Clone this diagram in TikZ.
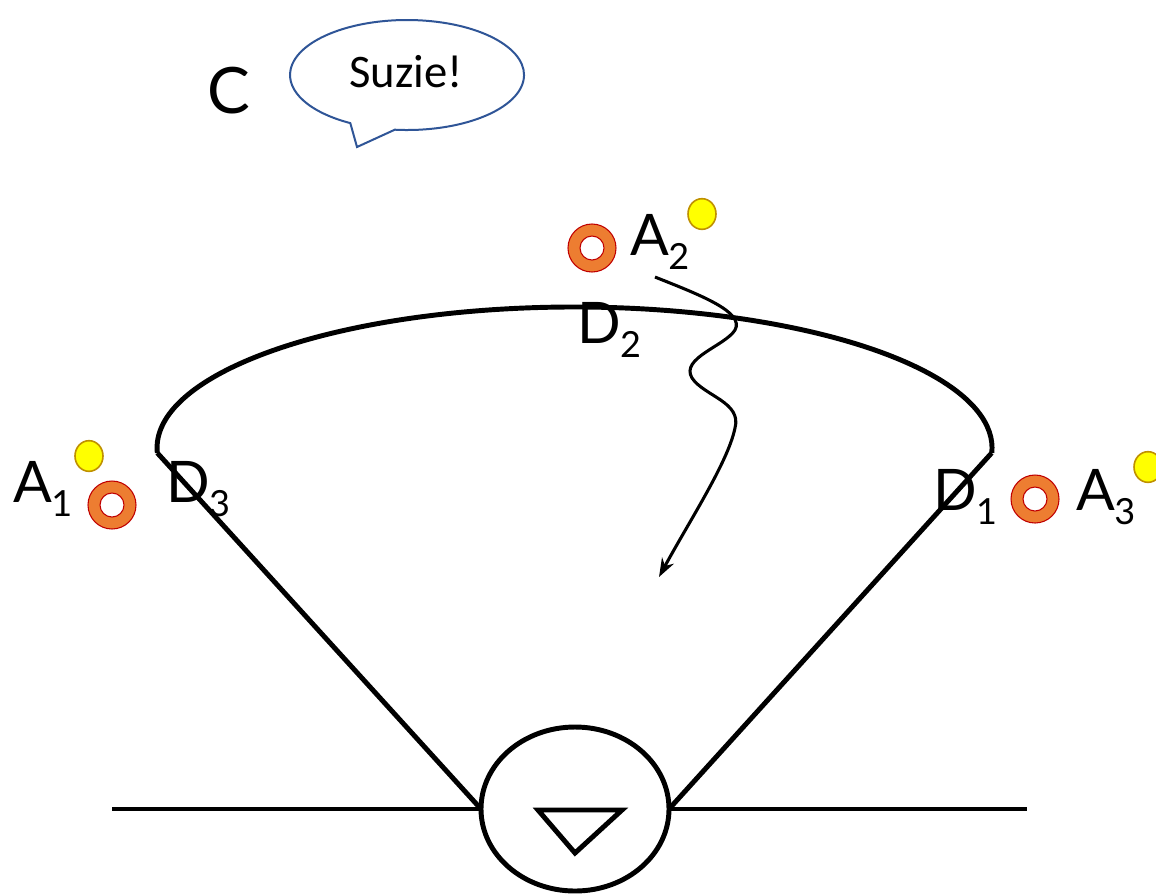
\documentclass[tikz,border=0pt]{standalone}
\usepackage{fontspec}
\setmainfont{Lato}
\newfontfamily\bubblefont{Carlito}
\usetikzlibrary{arrows.meta,shapes.geometric}
\definecolor{ringorange}{HTML}{ED7D31}
\definecolor{ringred}{HTML}{C00000}
\definecolor{dotyellow}{HTML}{FFFF00}
\definecolor{dotgold}{HTML}{BF9000}
\definecolor{bubbleblue}{HTML}{2F5597}

% letter with a lowered index
\newcommand{\sublabel}[2]{#1\kern-0.5pt\raisebox{-11pt}{\fontsize{27}{27}\selectfont #2}}

\begin{document}
\begin{tikzpicture}[x=0.75pt,y=-0.75pt,
  lbl/.style={font=\fontsize{43}{43}\selectfont, inner sep=0pt, anchor=base west},
  wire/.style={line width=3.7pt},
  ringouter/.style={circle, fill=ringorange, draw=ringred, line width=0.8pt, minimum size=36pt, inner sep=0pt},
  ringinner/.style={circle, fill=white, draw=ringred, line width=0.8pt, minimum size=18pt, inner sep=0pt},
  dot/.style={ellipse, fill=dotyellow, draw=dotgold, line width=1.2pt, minimum width=21pt, minimum height=23pt, inner sep=0pt},
  squiggle/.style={line width=2.3pt, -{Stealth[length=14pt,width=10pt]}}
  ]
\useasboundingbox (0,0) rectangle (1156,894);

% speech bubble
\draw[bubbleblue, line width=1.5pt, fill=white]
  (394.8,129.7) arc[start angle=96, end angle=-241, x radius=117, y radius=55]
  -- (357,147) -- cycle;
\node (speech) at (406,72) {\bubblefont\fontsize{35}{35}\selectfont Suzie!};
\node[lbl, font=\fontsize{48}{48}\selectfont] (c) at (207,113) {C};

% detector dome
\coordinate (arcL) at (157.3,452.9);
\coordinate (arcR) at (991.7,452.9);
\draw[wire] (arcL) arc[start angle=178, end angle=362, x radius=417.5, y radius=141];

% meter with its leads
\node (meter) [ellipse, draw, line width=3.7pt, outer sep=0pt, inner sep=0pt,
  minimum width=141pt, minimum height=123pt] at (575,809) {};
\coordinate (hL) at (112,809);
\coordinate (hR) at (1027,809);
\draw[wire] (arcL) -- (meter.west);
\draw[wire] (arcR) -- (meter.east);
\draw[wire] (hL) -- (meter.west);
\draw[wire] (meter.east) -- (hR);
\coordinate (triL) at (538,810);
\coordinate (triR) at (622,810);
\coordinate (triB) at (575,853);
\draw[wire] (triL) -- (triR) -- (triB) -- cycle;

% detector labels
\node[lbl] (d2) at (577,343) {\sublabel{D}{2}};
\node[lbl] (d3) at (166,502) {\sublabel{D}{3}};
\node[lbl] (d1) at (933,510) {\sublabel{D}{1}};

% atoms
\node[ringouter] (r2) at (592,248) {};
\node[ringinner] at (r2.center) {};
\node[dot] (y2) at (702,214) {};
\node[lbl] (a2) at (630,255) {\sublabel{A}{2}};

\node[ringouter] (r1) at (112,505) {};
\node[ringinner] at (r1.center) {};
\node[dot] (y1) at (89,456) {};
\node[lbl] (a1) at (13,502) {\sublabel{A}{1}};

\node[ringouter] (r3) at (1035,499) {};
\node[ringinner] at (r3.center) {};
\node[dot] (y3) at (1148,467) {};
\node[lbl] (a3) at (1076,510) {\sublabel{A}{3}};

% wandering path into the dome
\coordinate (sq0) at (655,277);
\coordinate (sqEnd) at (659,577);
\draw[squiggle] (sq0) .. controls (700,295) and (745,312) .. (735,330)
  .. controls (725,346) and (680,358) .. (692,378)
  .. controls (704,396) and (742,402) .. (735,428)
  .. controls (728,462) and (690,520) .. (sqEnd);
\end{tikzpicture}
\end{document}
